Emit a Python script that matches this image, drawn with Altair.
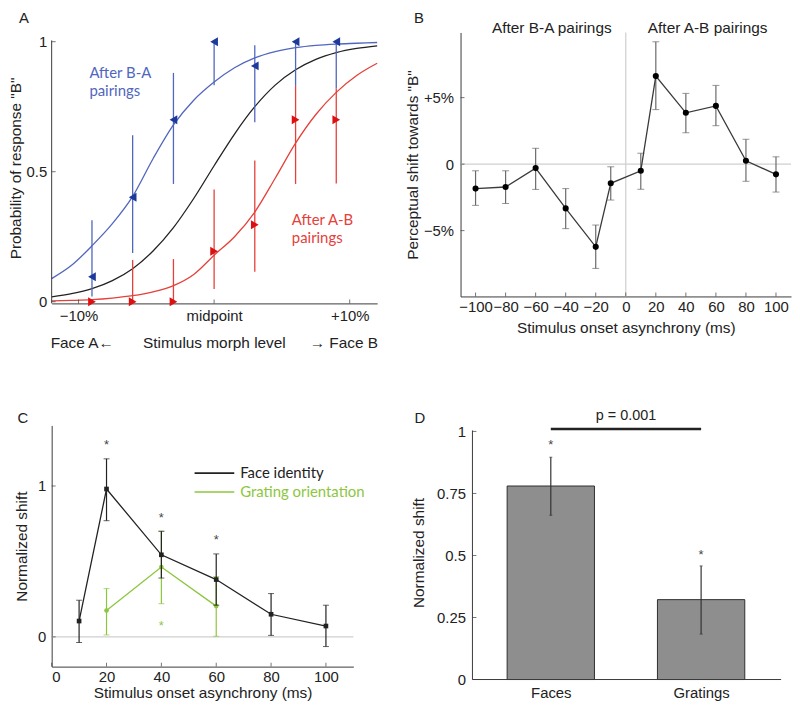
import json
import altair as alt
import pandas as pd

AX_FONT = "Liberation Sans"
ANN_FONT = "Lato"
INK = "#222222"
AXIS_INK = "#3a3a3a"
BLUE_LINE = "#5166bd"
BLUE_MARK = "#1d3a9a"
RED_LINE = "#e5403a"
RED_MARK = "#dc1010"
GREEN = "#8cc63e"
GREY_REF = "#cfcfcf"
BAR_FILL = "#8e8e8e"

# ---------------- Panel A data ----------------
morph_levels = [-10.0, -6.67, -3.33, 0.0, 3.33, 6.67, 10.0]
ba_mean = [0.096, 0.402, 0.700, 1.000, 0.907, 1.000, 1.000]
ba_hi = [0.313, 0.640, 0.880, 1.000, 0.986, 1.000, 1.000]
ba_lo = [0.020, 0.187, 0.453, 0.833, 0.690, 0.830, 0.820]
ab_mean = [0.000, 0.000, 0.000, 0.194, 0.296, 0.700, 0.700]
ab_hi = [0.000, 0.160, 0.164, 0.432, 0.543, 0.830, 0.820]
ab_lo = [0.000, 0.000, 0.000, 0.049, 0.115, 0.453, 0.455]

fit_x = [-13.3, -11.67, -10.0, -8.33, -6.67, -5.0, -3.33, -1.67, 0.0,
         1.67, 3.33, 5.0, 6.67, 8.33, 10.0, 11.67, 13.35]
fit_ba = [0.089, 0.140, 0.215, 0.300, 0.405, 0.550, 0.680, 0.775, 0.845,
          0.900, 0.938, 0.962, 0.977, 0.986, 0.991, 0.994, 0.997]
fit_base = [0.019, 0.031, 0.050, 0.081, 0.127, 0.195, 0.285, 0.397, 0.523,
            0.645, 0.750, 0.833, 0.892, 0.932, 0.958, 0.974, 0.984]
fit_ab = [0.003, 0.005, 0.008, 0.014, 0.023, 0.038, 0.062, 0.105, 0.179,
          0.250, 0.345, 0.475, 0.610, 0.720, 0.805, 0.870, 0.917]
fit_names = ["ba", "base", "ab"]

morph_ticks = [-11.1, 0.0, 11.1]
morph_tick_labels = ["−10%", "midpoint", "+10%"]
prob_ticks = [0, 0.5, 1]
a_texts = ["After B-A\npairings", "After A-B\npairings", "Face A←", "Stimulus morph level", "→ Face B"]

# ---------------- Panel B data ----------------
soa_b = [-100, -80, -60, -40, -20, -10, 10, 20, 40, 60, 80, 100]
shift_mean = [-1.84, -1.72, -0.30, -3.33, -6.22, -1.44, -0.50, 6.62, 3.86, 4.38, 0.25, -0.77]
shift_hi = [-0.50, -0.50, 1.19, -1.84, -4.58, -0.20, 0.82, 9.20, 5.32, 5.92, 1.87, 0.55]
shift_lo = [-3.10, -2.96, -1.90, -4.85, -7.84, -2.70, -1.89, 4.10, 2.36, 2.89, -1.29, -2.10]
soa_ticks_b = [-100, -80, -60, -40, -20, 0, 20, 40, 60, 80, 100]
shift_ticks = [-5, 0, 5]
shift_tick_labels = ["−5%", "0", "+5%"]
b_texts = ["After B-A pairings", "After A-B pairings"]

# ---------------- Panel C data ----------------
soa_c = [10, 20, 40, 60, 80, 100]
face_mean = [0.105, 0.980, 0.544, 0.380, 0.150, 0.072]
face_hi = [0.243, 1.180, 0.700, 0.550, 0.287, 0.210]
face_lo = [-0.037, 0.770, 0.390, 0.210, 0.010, -0.064]
grating_soa = [20, 40, 60]
grating_mean = [0.175, 0.463, 0.204]
grating_hi = [0.320, 0.700, 0.400]
grating_lo = [0.013, 0.220, 0.004]
face_star_soa = [20, 40, 60]
face_star_y = [1.29, 0.807, 0.664]
grating_star_soa = [40]
grating_star_y = [0.094]
soa_ticks_c = [0, 20, 40, 60, 80, 100]
norm_ticks_c = [0, 1]
c_series = ["Face identity", "Grating orientation"]

# ---------------- Panel D data ----------------
conditions = ["Faces", "Gratings"]
cond_pos = [0, 1]
cond_mean = [0.780, 0.322]
cond_hi = [0.896, 0.458]
cond_lo = [0.662, 0.183]
cond_star_y = [0.957, 0.514]
p_label = "p = 0.001"
p_line_y = 1.01
p_text_y = 1.064
norm_ticks_d = [0, 0.25, 0.5, 0.75, 1]

panel_letters = ["A", "B", "C", "D"]

ONE = alt.Data(values=[{"k": 1}])
TICK_LEN = 4


def lbl_expr(vals, labels):
    arr = "[" + ",".join(json.dumps(l, ensure_ascii=False) for l in labels) + "]"
    keys = "[" + ",".join(repr(float(v)) for v in vals) + "]"
    return f"{arr}[indexof({keys}, datum.value)]"


def letter(t, x, y):
    return alt.Chart(ONE).mark_text(text=t, font=AX_FONT, fontSize=15, color=INK,
                                    align="center", baseline="middle").encode(
        x=alt.value(x), y=alt.value(y))


class Pos:
    def __init__(self, sx, ax_x, sy, ax_y):
        self.sx, self.ax_x, self.sy, self.ax_y = sx, ax_x, sy, ax_y

    def x(self, f="x"):
        return alt.X(f"{f}:Q", scale=self.sx, axis=self.ax_x)

    def y(self, f="y"):
        return alt.Y(f"{f}:Q", scale=self.sy, axis=self.ax_y)


def err(df, P, color, w=1.3):
    return alt.Chart(df).mark_rule(color=color, strokeWidth=w).encode(x=P.x(), y=P.y("lo"), y2="hi:Q")


def caps(df, P, color, size):
    cdf = pd.DataFrame({"x": list(df["x"]) * 2, "y": list(df["lo"]) + list(df["hi"])})
    return alt.Chart(cdf).mark_tick(color=color, orient="horizontal", size=size, thickness=1).encode(
        x=P.x(), y=P.y())


def stars(df, P, color, size=13):
    return alt.Chart(df).mark_text(text="*", font=AX_FONT, fontSize=size, color=color,
                                   align="center", baseline="alphabetic", dy=7).encode(x=P.x(), y=P.y())


def in_xticks(P, values, h):
    return alt.Chart(pd.DataFrame({"x": values})).mark_tick(
        orient="vertical", size=TICK_LEN, thickness=1, color=AXIS_INK, yOffset=-TICK_LEN / 2).encode(
        x=P.x(), y=alt.value(h))


def in_yticks(P, values, x0=0):
    return alt.Chart(pd.DataFrame({"y": values})).mark_tick(
        orient="horizontal", size=TICK_LEN, thickness=1, color=AXIS_INK, xOffset=TICK_LEN / 2).encode(
        y=P.y(), x=alt.value(x0))


# ================= Panel A =================
A_W, A_H = 328, 273
PA = Pos(
    alt.Scale(domain=[-13.3, 13.35], nice=False, zero=False),
    alt.Axis(values=morph_ticks, labelExpr=lbl_expr(morph_ticks, morph_tick_labels),
             title=None, ticks=False, tickSize=0, labelPadding=5),
    alt.Scale(domain=[-0.0065, 1.0355], nice=False, zero=False),
    alt.Axis(values=prob_ticks, format=".1~f", title='Probability of response "B"',
             ticks=False, tickSize=0, domain=False, labelPadding=5, titlePadding=3),
)

n = len(fit_x)
fit_df = pd.DataFrame({"x": fit_x * 3, "y": fit_ba + fit_base + fit_ab,
                       "s": [fit_names[0]] * n + [fit_names[1]] * n + [fit_names[2]] * n})
ba_df = pd.DataFrame({"x": morph_levels, "y": ba_mean, "lo": ba_lo, "hi": ba_hi})
ab_df = pd.DataFrame({"x": morph_levels, "y": ab_mean, "lo": ab_lo, "hi": ab_hi})

a_fit = alt.Chart(fit_df).mark_line(interpolate="monotone", strokeWidth=1.3).encode(
    x=PA.x(), y=PA.y(),
    color=alt.Color("s:N", scale=alt.Scale(domain=fit_names, range=[BLUE_LINE, INK, RED_LINE]), legend=None),
)
a_ba_pts = alt.Chart(ba_df).mark_point(shape="triangle-left", filled=True, size=80, color=BLUE_MARK,
                                       opacity=1).encode(x=PA.x(), y=PA.y())
a_ab_pts = alt.Chart(ab_df).mark_point(shape="triangle-right", filled=True, size=80, color=RED_MARK,
                                       opacity=1).encode(x=PA.x(), y=PA.y())
a_yline = alt.Chart(ONE).mark_rule(color=AXIS_INK).encode(x=alt.value(0), y=alt.value(8), y2=alt.value(A_H))

a_t1 = alt.Chart(ONE).mark_text(text=a_texts[0], lineBreak="\n", lineHeight=18, font=ANN_FONT, fontSize=15,
                                color=BLUE_LINE, align="left", baseline="top").encode(x=alt.value(38), y=alt.value(34))
a_t2 = alt.Chart(ONE).mark_text(text=a_texts[1], lineBreak="\n", lineHeight=18, font=ANN_FONT, fontSize=15,
                                color=RED_LINE, align="left", baseline="top").encode(x=alt.value(242), y=alt.value(182))
a_t3 = alt.Chart(ONE).mark_text(text=a_texts[2], font=AX_FONT, fontSize=15.5, color=INK, align="left",
                                baseline="middle").encode(x=alt.value(-1), y=alt.value(313))
a_t4 = alt.Chart(ONE).mark_text(text=a_texts[3], font=AX_FONT, fontSize=15.5, color=INK, align="center",
                                baseline="middle").encode(x=alt.value(164), y=alt.value(313))
a_t5 = alt.Chart(ONE).mark_text(text=a_texts[4], font=AX_FONT, fontSize=15.5, color=INK, align="left",
                                baseline="middle").encode(x=alt.value(260), y=alt.value(313))

panelA = alt.layer(a_fit, a_yline, in_xticks(PA, morph_ticks, A_H), in_yticks(PA, prob_ticks),
                   err(ba_df, PA, BLUE_LINE), err(ab_df, PA, RED_LINE),
                   a_ba_pts, a_ab_pts, a_t1, a_t2, a_t3, a_t4, a_t5,
                   letter(panel_letters[0], -28, -15)).properties(width=A_W, height=A_H)

# ================= Panel B =================
B_W, B_H = 333, 266
PB = Pos(
    alt.Scale(domain=[-110, 110], nice=False, zero=False),
    alt.Axis(values=soa_ticks_b, title="Stimulus onset asynchrony (ms)", ticks=False, tickSize=0,
             labelPadding=3, titlePadding=6),
    alt.Scale(domain=[-9.95, 9.9], nice=False, zero=False),
    alt.Axis(values=shift_ticks, labelExpr=lbl_expr(shift_ticks, shift_tick_labels),
             title='Perceptual shift towards "B"', ticks=False, tickSize=0, labelPadding=7, titlePadding=3),
)

b_df = pd.DataFrame({"x": soa_b, "y": shift_mean, "lo": shift_lo, "hi": shift_hi})
b_vref = alt.Chart(pd.DataFrame({"x": [0]})).mark_rule(color=GREY_REF, strokeWidth=1.2).encode(x=PB.x())
b_href = alt.Chart(pd.DataFrame({"y": [0]})).mark_rule(color=GREY_REF, strokeWidth=1.2).encode(y=PB.y())
b_line = alt.Chart(b_df).mark_line(color="#3a3a3a", strokeWidth=1.3).encode(x=PB.x(), y=PB.y())
b_pts = alt.Chart(b_df).mark_point(shape="circle", filled=True, size=38, color="#000000", opacity=1).encode(
    x=PB.x(), y=PB.y())
b_t1 = alt.Chart(ONE).mark_text(text=b_texts[0], font=AX_FONT, fontSize=15.5, color=INK, align="center",
                                baseline="middle").encode(x=alt.value(92), y=alt.value(-4))
b_t2 = alt.Chart(ONE).mark_text(text=b_texts[1], font=AX_FONT, fontSize=15.5, color=INK, align="center",
                                baseline="middle").encode(x=alt.value(249), y=alt.value(-4))

panelB = alt.layer(b_vref, b_href, in_xticks(PB, soa_ticks_b, B_H), in_yticks(PB, shift_ticks),
                   err(b_df, PB, "#6a6a6a", 1.2), caps(b_df, PB, "#6a6a6a", 7),
                   b_line, b_pts, b_t1, b_t2, letter(panel_letters[1], -42, -15)).properties(width=B_W, height=B_H)

# ================= Panel C =================
C_W, C_H = 304, 243
PC = Pos(
    alt.Scale(domain=[0, 110], nice=False, zero=False),
    alt.Axis(values=soa_ticks_c, title="Stimulus onset asynchrony (ms)", ticks=False, tickSize=0,
             labelPadding=3, titlePadding=1),
    alt.Scale(domain=[-0.197, 1.401], nice=False, zero=False),
    alt.Axis(values=norm_ticks_c, title="Normalized shift", ticks=False, tickSize=0,
             labelPadding=6, titlePadding=8),
)

cf_df = pd.DataFrame({"x": soa_c, "y": face_mean, "lo": face_lo, "hi": face_hi})
cg_df = pd.DataFrame({"x": grating_soa, "y": grating_mean, "lo": grating_lo, "hi": grating_hi})
c_href = alt.Chart(pd.DataFrame({"y": [0]})).mark_rule(color=GREY_REF, strokeWidth=1.2).encode(y=PC.y())


def line_pts(df, P, color, shape):
    ln = alt.Chart(df).mark_line(color=color, strokeWidth=1.3).encode(x=P.x(), y=P.y())
    pt = alt.Chart(df).mark_point(shape=shape, filled=True, size=22, color=color, opacity=1).encode(
        x=P.x(), y=P.y())
    return ln, pt


cg_line, cg_pts = line_pts(cg_df, PC, GREEN, "circle")
cf_line, cf_pts = line_pts(cf_df, PC, INK, "square")
c_stars_f = stars(pd.DataFrame({"x": face_star_soa, "y": face_star_y}), PC, "#444444")
c_stars_g = stars(pd.DataFrame({"x": grating_star_soa, "y": grating_star_y}), PC, GREEN)

leg_f_line = alt.Chart(ONE).mark_rule(color=INK, strokeWidth=1.6).encode(
    x=alt.value(144), x2=alt.value(184), y=alt.value(48))
leg_g_line = alt.Chart(ONE).mark_rule(color=GREEN, strokeWidth=1.6).encode(
    x=alt.value(144), x2=alt.value(184), y=alt.value(67))
leg_f_text = alt.Chart(ONE).mark_text(text=c_series[0], font=ANN_FONT, fontSize=15, color=INK,
                                      align="left", baseline="middle").encode(x=alt.value(190), y=alt.value(48))
leg_g_text = alt.Chart(ONE).mark_text(text=c_series[1], font=ANN_FONT, fontSize=15, color=GREEN,
                                      align="left", baseline="middle").encode(x=alt.value(190), y=alt.value(67))

panelC = alt.layer(c_href, in_xticks(PC, soa_ticks_c, C_H), in_yticks(PC, norm_ticks_c),
                   err(cg_df, PC, GREEN, 1.2), caps(cg_df, PC, GREEN, 6), cg_line, cg_pts,
                   err(cf_df, PC, INK, 1.2), caps(cf_df, PC, INK, 6), cf_line, cf_pts,
                   c_stars_f, c_stars_g, leg_f_line, leg_g_line, leg_f_text, leg_g_text,
                   letter(panel_letters[2], -29, -7)).properties(width=C_W, height=C_H)

# ================= Panel D =================
D_W, D_H = 323, 256
PD = Pos(
    alt.Scale(domain=[-0.5675, 1.499], nice=False, zero=False),
    alt.Axis(values=cond_pos, labelExpr=lbl_expr(cond_pos, conditions), title=None, ticks=False,
             tickSize=0, domain=False, labelPadding=6),
    alt.Scale(domain=[0, 1.024], nice=False, zero=False),
    alt.Axis(values=norm_ticks_d, format=".2~f", title="Normalized shift", ticks=False, tickSize=0,
             domain=False, labelPadding=7, titlePadding=10, offset=-12),
)

d_df = pd.DataFrame({"x": cond_pos, "y": cond_mean, "lo": cond_lo, "hi": cond_hi})
d_bars = alt.Chart(d_df).mark_bar(size=88, color=BAR_FILL, stroke="#2e2e2e", strokeWidth=1).encode(
    x=PD.x(), y=PD.y())
d_stars = stars(pd.DataFrame({"x": cond_pos, "y": cond_star_y}), PD, "#444444")
d_pline = alt.Chart(pd.DataFrame({"x": [cond_pos[0]], "x2": [cond_pos[1]], "y": [p_line_y]})).mark_rule(
    color=INK, strokeWidth=2.6).encode(x=PD.x(), x2="x2:Q", y=PD.y())
d_ptext = alt.Chart(pd.DataFrame({"x": [(cond_pos[0] + cond_pos[1]) / 2], "y": [p_text_y]})).mark_text(
    text=p_label, font=AX_FONT, fontSize=14.5, color=INK, align="center", baseline="middle").encode(
    x=PD.x(), y=PD.y())
d_yline = alt.Chart(ONE).mark_rule(color=AXIS_INK).encode(x=alt.value(12), y=alt.value(5), y2=alt.value(D_H))
d_xline = alt.Chart(ONE).mark_rule(color=AXIS_INK).encode(x=alt.value(12), x2=alt.value(D_W), y=alt.value(D_H))

panelD = alt.layer(d_bars, err(d_df, PD, "#333333", 1.2), caps(d_df, PD, "#333333", 3),
                   d_stars, d_pline, d_ptext, d_yline, d_xline, in_yticks(PD, norm_ticks_d, 12),
                   letter(panel_letters[3], -41, -7)).properties(width=D_W, height=D_H)

chart = alt.concat(panelA, panelB, panelC, panelD, columns=2,
                   spacing={"row": 123, "column": 84}, bounds="flush", align="each").properties(
    padding={"left": 0, "top": 0, "right": 0, "bottom": 0}
).configure_view(stroke=None).configure_axis(
    grid=False, labelFont=AX_FONT, titleFont=AX_FONT, labelFontSize=15, titleFontSize=15.5,
    titleFontWeight="normal", labelColor=INK, titleColor=INK, domainColor=AXIS_INK, domainWidth=1
)

chart.save("out.html", embed_options={"renderer": "svg", "actions": False})
